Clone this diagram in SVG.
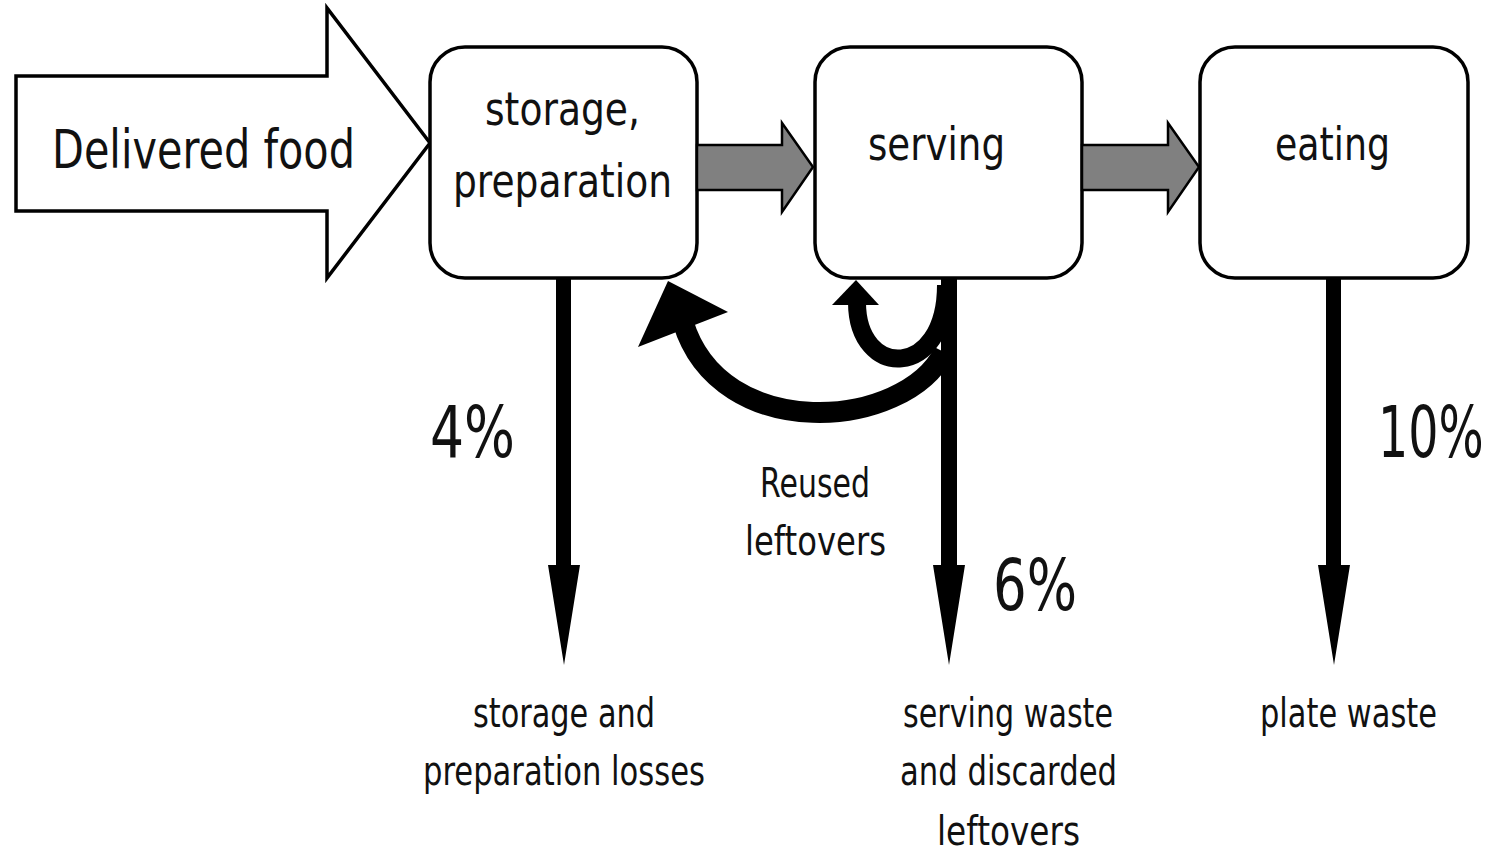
<svg xmlns="http://www.w3.org/2000/svg" width="1494" height="853" viewBox="0 0 1494 853">
<style>
.box{fill:#fff;stroke:#000;stroke-width:3.5}
.t{font-family:"Comic Sans MS","DejaVu Sans",sans-serif;fill:#111}
.big{font-size:54px}
.mid{font-size:46px}
.pct{font-size:72px}
.lbl{font-size:40px}
.gray{fill:#808080;stroke:#000;stroke-width:2.5;stroke-linejoin:miter}
.down{fill:#000}
</style>
<rect width="1494" height="853" fill="#fff"/>
<g id="delivered">
<path d="M16 76 H327 V8 L430 143 L327 278 V211 H16 Z" fill="#fff" stroke="#000" stroke-width="3.5"/>
<text class="t big" x="52" y="168" textLength="303" lengthAdjust="spacingAndGlyphs">Delivered food</text>
</g>
<g id="storage">
<rect class="box" x="430" y="47" width="267" height="231" rx="35"/>
<text class="t mid" x="485" y="125" textLength="155" lengthAdjust="spacingAndGlyphs">storage,</text>
<text class="t mid" x="453" y="197" textLength="219" lengthAdjust="spacingAndGlyphs">preparation</text>
</g>
<g id="serving">
<rect class="box" x="815" y="47" width="267" height="231" rx="35"/>
<text class="t mid" x="868" y="160" textLength="137" lengthAdjust="spacingAndGlyphs">serving</text>
</g>
<g id="eating">
<rect class="box" x="1200" y="47" width="268" height="231" rx="35"/>
<text class="t mid" x="1275" y="160" textLength="115" lengthAdjust="spacingAndGlyphs">eating</text>
</g>
<g id="connectors">
<path class="gray" d="M697 145 H782 V123 L813 167 L782 212 V190 H697 Z"/>
<path class="gray" d="M1082 145 H1168 V123 L1199 167 L1168 212 V190 H1082 Z"/>
<path class="down" d="M556 278 H571 V565 H580 L564 665 L548 565 H556 Z"/>
<path class="down" d="M941 278 H957 V565 H965 L949 665 L933 565 H941 Z"/>
<path class="down" d="M1326 278 H1341 V565 H1350 L1334 665 L1318 565 H1326 Z"/>
<path d="M944 352 C905 430 720 445 683 322" fill="none" stroke="#000" stroke-width="21"/>
<polygon points="638,347 728,312 668,281" fill="#000"/>
<path d="M946 285 C946 380 857 380 857 302" fill="none" stroke="#000" stroke-width="18"/>
<polygon points="832,305 879,305 856,280" fill="#000"/>
</g>
<g id="labels">
<text class="t pct" x="430" y="457" textLength="85" lengthAdjust="spacingAndGlyphs">4%</text>
<text class="t pct" transform="translate(1378 457) scale(0.66 1)">10%</text>
<text class="t pct" x="993" y="610" textLength="84" lengthAdjust="spacingAndGlyphs">6%</text>
<text class="t lbl" x="760" y="497" textLength="110" lengthAdjust="spacingAndGlyphs">Reused</text>
<text class="t lbl" x="745" y="555" textLength="141" lengthAdjust="spacingAndGlyphs">leftovers</text>
<text class="t lbl" x="473" y="727" textLength="182" lengthAdjust="spacingAndGlyphs">storage and</text>
<text class="t lbl" x="423" y="785" textLength="282" lengthAdjust="spacingAndGlyphs">preparation losses</text>
<text class="t lbl" x="903" y="727" textLength="210" lengthAdjust="spacingAndGlyphs">serving waste</text>
<text class="t lbl" x="900" y="785" textLength="217" lengthAdjust="spacingAndGlyphs">and discarded</text>
<text class="t lbl" x="937" y="845" textLength="143" lengthAdjust="spacingAndGlyphs">leftovers</text>
<text class="t lbl" x="1260" y="727" textLength="177" lengthAdjust="spacingAndGlyphs">plate waste</text>
</g>
</svg>
